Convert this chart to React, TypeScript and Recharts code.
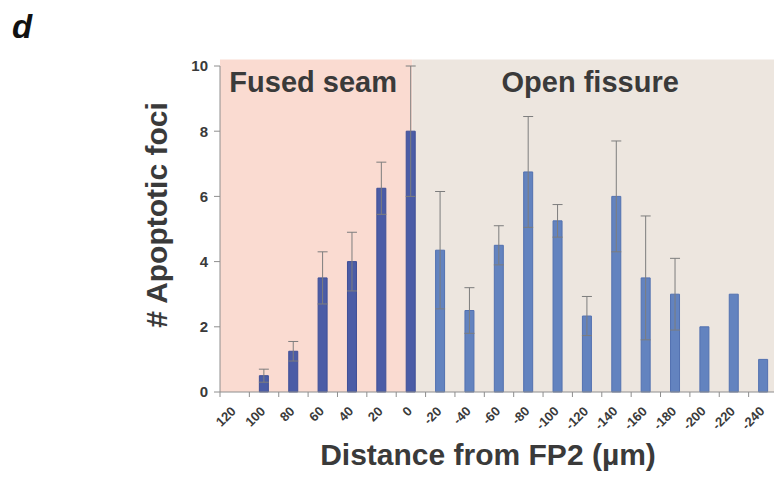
import React from 'react'
import { BarChart, Bar, XAxis, YAxis, Cell, ErrorBar, ReferenceArea } from 'recharts'

// distance bins (µm from FP2), left to right
const DISTANCES = ['120', '100', '80', '60', '40', '20', '0', '-20', '-40', '-60', '-80', '-100', '-120', '-140', '-160', '-180', '-200', '-220', '-240']
const FOCI = [0, 0.5, 1.25, 3.5, 4.0, 6.25, 8.0, 4.35, 2.5, 4.5, 6.75, 5.25, 2.33, 6.0, 3.5, 3.0, 2.0, 3.0, 1.0]
const SEM = [null, 0.2, 0.3, 0.8, 0.9, 0.8, 2.0, 1.8, 0.7, 0.6, 1.7, 0.5, 0.6, 1.7, 1.9, 1.1, 0, 0, 0]
const Y_TICKS = [0, 2, 4, 6, 8, 10]
const FUSED_LAST = 6 // index of the "0" bin, last one in the fused seam

const data = DISTANCES.map((d, i) => ({ pos: i, label: d, foci: FOCI[i], sem: SEM[i] }))

// ticks at bin edges (tick marks) and bin centres (labels)
const xTicks = DISTANCES.flatMap((_, i) => [i - 0.5, i]).concat(DISTANCES.length - 0.5)

const TEXT = '#3a3a3a'
const AXIS = '#8e8e8e'

const XTick = (props: any) => {
  const { x, y, payload } = props
  const v = payload.value
  if (!Number.isInteger(v)) {
    return <line x1={x} x2={x} y1={y} y2={y + 5} stroke={AXIS} strokeWidth={1} />
  }
  const ax = x + 2
  const ay = y + 20
  return (
    <text
      x={ax}
      y={ay}
      transform={`rotate(-45, ${ax}, ${ay})`}
      textAnchor="end"
      fontSize={13}
      fontWeight="bold"
      fill={TEXT}
    >
      {DISTANCES[v]}
    </text>
  )
}

export default function App() {
  return (
    <div
      style={{
        position: 'absolute',
        left: 0,
        top: 0,
        width: 774,
        height: 477,
        overflow: 'hidden',
        background: '#fff',
        fontFamily: '"Liberation Sans", Arial, sans-serif'
      }}
    >
      <BarChart width={779} height={477} data={data} margin={{ top: 66, right: 1, left: 0, bottom: 0 }}>
        <ReferenceArea
          x1={-0.5}
          x2={FUSED_LAST + 0.05}
          y1={0}
          y2={10.2}
          ifOverflow="visible"
          fill="#fadbd1"
          fillOpacity={1}
          stroke="none"
          label={{ value: 'Fused seam', position: 'insideTop', offset: 12, dx: -3, fill: TEXT, fontSize: 29, fontWeight: 'bold' }}
        />
        <ReferenceArea
          x1={FUSED_LAST + 0.05}
          x2={DISTANCES.length - 0.5}
          y1={0}
          y2={10.2}
          ifOverflow="visible"
          fill="#ede6df"
          fillOpacity={1}
          stroke="none"
          label={{ value: 'Open fissure', position: 'insideTop', offset: 12, dx: -5, fill: TEXT, fontSize: 29, fontWeight: 'bold' }}
        />
        <XAxis
          type="number"
          dataKey="pos"
          domain={[-0.5, DISTANCES.length - 0.5]}
          ticks={xTicks}
          interval={0}
          tickLine={false}
          tickSize={0}
          tickMargin={0}
          tick={<XTick />}
          axisLine={{ stroke: AXIS }}
          height={85}
        />
        <YAxis
          domain={[0, 10]}
          ticks={Y_TICKS}
          width={220}
          tickSize={6}
          tickMargin={6}
          tickLine={{ stroke: AXIS }}
          axisLine={{ stroke: AXIS }}
          tick={{ fontSize: 15, fontWeight: 'bold', fill: TEXT }}
        />
        <Bar dataKey="foci" barSize={9} isAnimationActive={false}>
          {data.map((d, i) => (
            <Cell
              key={d.label}
              fill={i <= FUSED_LAST ? '#4b5ca6' : '#6383bf'}
              stroke={i <= FUSED_LAST ? '#3f4f97' : '#5371b0'}
            />
          ))}
          <ErrorBar dataKey="sem" width={5} stroke="#7d7d7d" strokeWidth={1} direction="y" />
        </Bar>
      </BarChart>
      <div style={{ position: 'absolute', left: 12, top: 8, fontSize: 33, fontWeight: 'bold', fontStyle: 'italic', color: '#111' }}>
        d
      </div>
      <div
        style={{
          position: 'absolute',
          left: 157,
          top: 215,
          transform: 'translate(-50%, -50%) rotate(-90deg)',
          whiteSpace: 'nowrap',
          fontSize: 30,
          fontWeight: 'bold',
          color: TEXT
        }}
      >
        # Apoptotic foci
      </div>
      <div
        style={{
          position: 'absolute',
          left: 488,
          top: 455,
          transform: 'translate(-50%, -50%)',
          whiteSpace: 'nowrap',
          fontSize: 30,
          fontWeight: 'bold',
          color: TEXT
        }}
      >
        Distance from FP2 (µm)
      </div>
    </div>
  )
}
